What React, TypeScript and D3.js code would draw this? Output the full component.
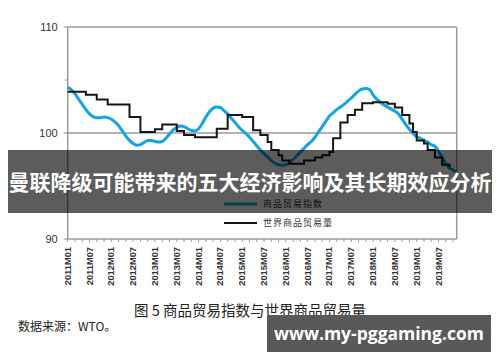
import * as d3 from 'd3';

// 商品贸易指数, monthly from 2011M01
const tradeIndex = [
  104.3, 104.1, 103.7, 103.2, 102.7, 102.2, 101.8, 101.55, 101.45, 101.45, 101.5, 101.45,
  101.3, 101.05, 100.7, 100.2, 99.7, 99.3, 99.0, 98.85, 98.9, 99.1, 99.3, 99.3,
  99.2, 99.15, 99.2, 99.5, 99.9, 100.3, 100.5, 100.65, 100.6, 100.4, 100.25, 100.2,
  100.4, 100.9, 101.5, 102.0, 102.35, 102.45, 102.4, 102.1, 101.8, 101.4, 101.0, 100.6,
  100.25, 99.95, 99.6, 99.2, 98.8, 98.4, 98.05, 97.75, 97.4, 97.15, 97.0, 96.95,
  97.0, 97.2, 97.5, 97.85, 98.2, 98.55, 98.9, 99.2, 99.6, 100.1, 100.6, 101.1,
  101.6, 101.9, 102.2, 102.45, 102.7, 103.0, 103.3, 103.65, 103.95, 104.15, 104.2, 104.1,
  103.6, 103.2, 102.9, 102.65, 102.45, 102.25, 102.05, 101.8, 101.3, 100.8, 100.35, 99.95,
  99.65, 99.5, 99.3, 99.15, 98.9, 98.75, 98.3, 97.7, 97.1, 96.7, 96.5, 96.3,
];

// 世界商品贸易量, monthly from 2011M01
const tradeVolume = [
  103.9, 103.9, 103.9, 103.9, 103.9, 103.6, 103.6, 103.6, 103.15, 103.15, 103.15, 102.7,
  102.7, 102.7, 102.7, 102.7, 102.7, 101.5, 101.5, 101.5, 100.1, 100.1, 100.1, 100.1,
  100.35, 100.35, 100.8, 100.8, 100.8, 100.8, 100.2, 100.2, 99.8, 99.8, 99.8, 99.6,
  99.6, 99.6, 99.6, 99.6, 99.6, 100.4, 100.4, 100.4, 101.7, 101.7, 101.7, 101.7,
  101.5, 101.5, 101.5, 100.25, 100.25, 99.8, 99.8, 99.15, 98.4, 98.4, 97.9, 97.4,
  97.4, 97.1, 97.1, 97.1, 97.1, 97.4, 97.4, 97.4, 97.7, 97.7, 97.9, 97.9,
  98.2, 99.5, 99.5, 101.0, 101.0, 101.7, 101.7, 102.2, 102.2, 102.8, 102.8, 102.8,
  102.9, 102.9, 102.9, 102.9, 102.75, 102.75, 102.4, 102.4, 101.7, 101.7, 100.9, 100.1,
  99.3, 99.3, 99.0, 98.4, 98.4, 97.7, 97.7, 97.0, 97.0, 96.8,
];

const tickLabels = [
  '2011M01', '2011M07', '2012M01', '2012M07', '2013M01', '2013M07', '2014M01', '2014M07', '2015M01',
  '2015M07', '2016M01', '2016M07', '2017M01', '2017M07', '2018M01', '2018M07', '2019M01', '2019M07',
];
const yTicks = [90, 100, 110];
const yMinor = [95, 105];
const seriesNames = ['商品贸易指数', '世界商品贸易量'];

const title = '曼联降级可能带来的五大经济影响及其长期效应分析';
const caption = '图 5  商品贸易指数与世界商品贸易量';
const source = '数据来源：WTO。';
const watermark = 'www.my-pggaming.com';

export default function App() {
  const x = d3.scaleLinear().domain([0, 107]).range([67.7, 456.7]);
  const y = d3.scaleLinear().domain([90, 110]).range([239, 27]);

  const blueLine = d3.line<number>()
    .x((d, i) => x(i))
    .y(d => y(d))
    .curve(d3.curveMonotoneX);

  const blackLine = d3.line<number>()
    .x((d, i) => x(i))
    .y(d => y(d))
    .curve(d3.curveStepAfter);

  const minorX = d3.range(0, 108, 2);
  const left = x(0);
  const right = x(107);
  const grey = '#9a9a9a';
  const cjk = "'Noto Sans CJK SC', sans-serif";

  return (
    <svg width={500} height={362} style={{ position: 'absolute', left: 0, top: 0, background: '#fff' }}
      fontFamily="'Liberation Sans', Arial, sans-serif">
      {/* frame */}
      <line x1={left} x2={right} y1={y(110)} y2={y(110)} stroke={grey} strokeWidth={1.5} />
      <line x1={left} x2={right} y1={y(100)} y2={y(100)} stroke={grey} strokeWidth={1.5} />
      <line x1={right} x2={right} y1={y(110)} y2={y(90)} stroke={grey} strokeWidth={1.5} />
      <line x1={left} x2={right} y1={y(90)} y2={y(90)} stroke={grey} strokeWidth={1.5} />
      <line x1={left} x2={left} y1={y(110)} y2={y(90)} stroke={grey} strokeWidth={1.5} />

      {yTicks.map(t => (
        <g key={t}>
          <line x1={left - 4} x2={left} y1={y(t)} y2={y(t)} stroke={grey} strokeWidth={1.2} />
          <text x={left - 10} y={y(t)} dy="0.35em" textAnchor="end" fontSize={11} fill="#333">{t}</text>
        </g>
      ))}
      {yMinor.map(t => (
        <line key={t} x1={left - 3} x2={left} y1={y(t)} y2={y(t)} stroke={grey} strokeWidth={1} />
      ))}

      {minorX.map(i => (
        <line key={i} x1={x(i)} x2={x(i)} y1={y(90)} y2={y(90) + 3} stroke={grey} strokeWidth={1} />
      ))}
      {tickLabels.map((t, k) => (
        <text key={t} transform={`translate(${x(k * 6) + 3},${y(90) + 8}) rotate(-90)`}
          textAnchor="end" fontSize={9.3} fontWeight="bold" fill="#333">{t}</text>
      ))}

      {/* series */}
      <path d={blueLine(tradeIndex) || ''} fill="none" stroke="#13a4e4" strokeWidth={3} />
      <path d={blackLine(tradeVolume) || ''} fill="none" stroke="#161616" strokeWidth={2} />

      {/* legend */}
      <line x1={224} x2={257} y1={204} y2={204} stroke="#13a4e4" strokeWidth={3} />
      <text x={263} y={204} dy="0.35em" fontSize={9} letterSpacing={1} fill="#333" fontFamily={cjk}>{seriesNames[0]}</text>
      <line x1={224} x2={257} y1={223} y2={223} stroke="#161616" strokeWidth={2} />
      <text x={263} y={223} dy="0.35em" fontSize={9} letterSpacing={1} fill="#333" fontFamily={cjk}>{seriesNames[1]}</text>

      {/* caption and source */}
      <text x={250} y={311} dy="0.35em" textAnchor="middle" fontSize={14.5} fill="#222" fontFamily={cjk}>{caption}</text>
      <text x={18} y={327} dy="0.35em" fontSize={12} fill="#222" fontFamily={cjk}>{source}</text>

      {/* overlay banner */}
      <rect x={8} y={150} width={484} height={63} fill="rgba(0,0,0,0.64)" />
      <text x={250} y={183} dy="0.35em" textAnchor="middle" fontSize={21} fontWeight="bold" fill="#fff"
        fontFamily={cjk}>{title}</text>

      {/* watermark */}
      <rect x={267} y={315} width={224} height={37} fill="#595959" />
      <text x={379} y={334} dy="0.35em" textAnchor="middle" fontSize={17.5} fontWeight="bold" fill="#fff"
        fontFamily="'Open Sans', sans-serif">{watermark}</text>
    </svg>
  );
}
